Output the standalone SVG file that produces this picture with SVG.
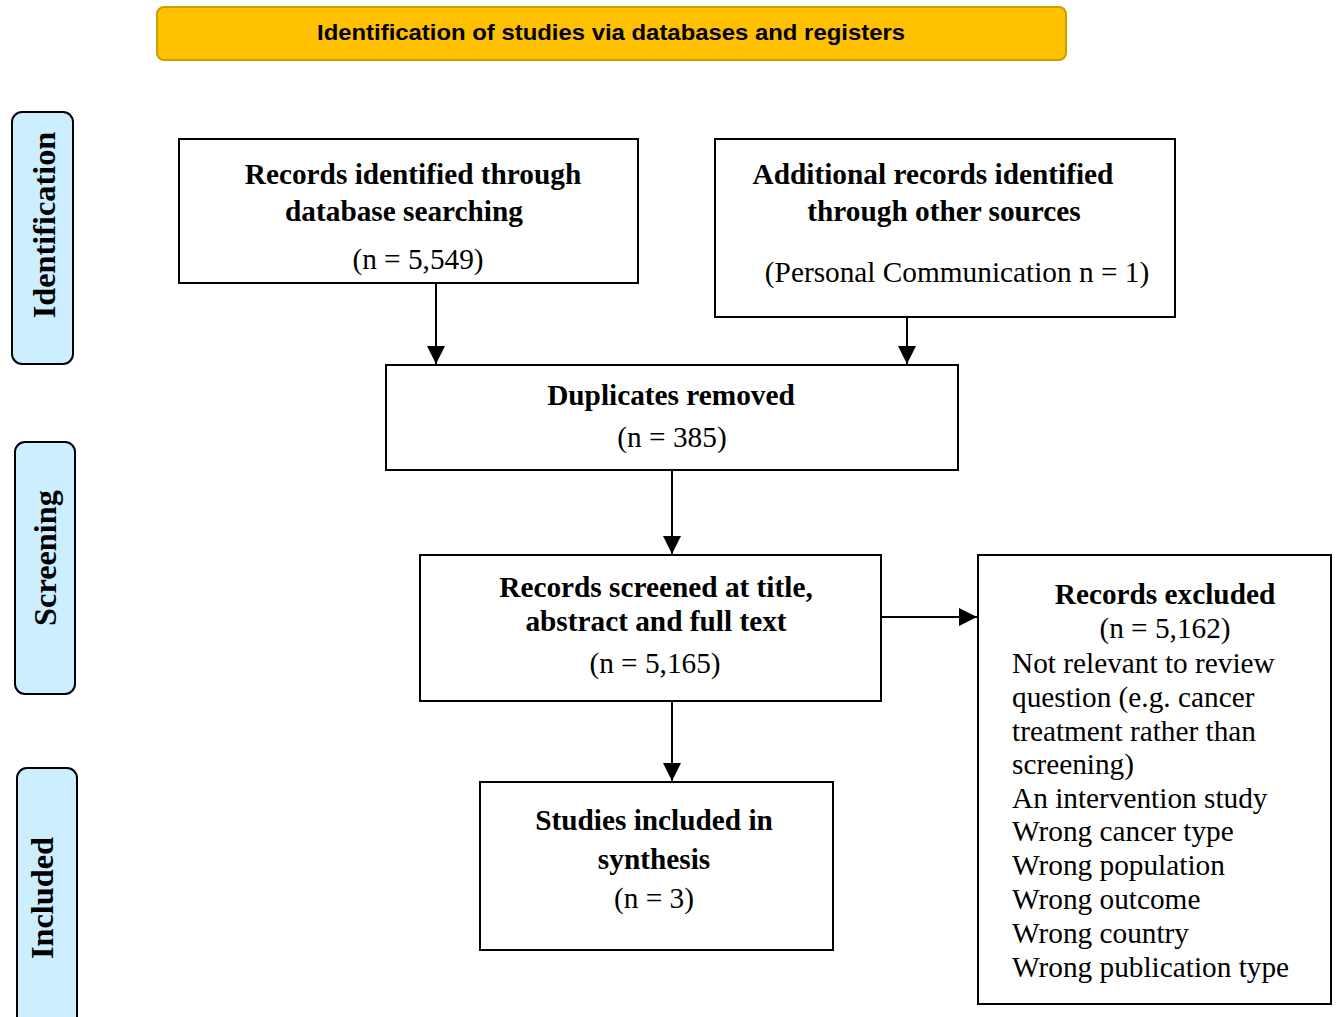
<svg xmlns="http://www.w3.org/2000/svg" width="1338" height="1017" viewBox="0 0 1338 1017">
<defs>
<marker id="ah" markerUnits="userSpaceOnUse" markerWidth="20" markerHeight="20" refX="18" refY="9" orient="auto">
<path d="M0,0 L18,9 L0,18 z" fill="#000"/>
</marker>
<style>
.box{fill:#fff;stroke:#000;stroke-width:2}
.side{fill:#CCEEFF;stroke:#000;stroke-width:2}
.b{font-family:"Liberation Serif",serif;font-weight:bold;font-size:29.3px;fill:#000;text-anchor:middle}
.r{font-family:"Liberation Serif",serif;font-size:29.3px;fill:#000;text-anchor:middle}
.l{font-family:"Liberation Serif",serif;font-size:29.3px;fill:#000}
.s{font-family:"Liberation Serif",serif;font-weight:bold;font-size:32.3px;fill:#000;text-anchor:middle}
.conn{stroke:#000;stroke-width:2;fill:none;marker-end:url(#ah)}
</style>
</defs>
<rect width="1338" height="1017" fill="#fff"/>
<g id="header">
<rect x="157" y="7" width="909" height="53" rx="7" fill="#FFC000" stroke="#C8A000" stroke-width="2"/>
<text x="611" y="40" font-family="Liberation Sans, sans-serif" font-weight="bold" font-size="22" text-anchor="middle" fill="#000" textLength="588" lengthAdjust="spacingAndGlyphs">Identification of studies via databases and registers</text>
</g>
<g id="stage-identification">
<rect class="side" x="12" y="112" width="61" height="252" rx="10"/>
<text class="s" transform="translate(55,225) rotate(-90)">Identification</text>
</g>
<g id="stage-screening">
<rect class="side" x="15" y="442" width="60" height="252" rx="10"/>
<text class="s" transform="translate(56,558) rotate(-90)">Screening</text>
</g>
<g id="stage-included">
<rect class="side" x="17" y="768" width="60" height="260" rx="10"/>
<text class="s" transform="translate(53,898) rotate(-90)">Included</text>
</g>
<g id="connectors">
<line class="conn" x1="436" y1="283" x2="436" y2="364"/>
<line class="conn" x1="907" y1="317" x2="907" y2="364"/>
<line class="conn" x1="672" y1="470" x2="672" y2="554"/>
<line class="conn" x1="881" y1="617" x2="977" y2="617"/>
<line class="conn" x1="672" y1="700" x2="672" y2="781"/>
</g>
<g id="records-database">
<rect class="box" x="179" y="139" width="459" height="144"/>
<text class="b" x="413" y="184">Records identified through</text>
<text class="b" x="404" y="221">database searching</text>
<text class="r" x="418" y="269">(n = 5,549)</text>
</g>
<g id="records-other">
<rect class="box" x="715" y="139" width="460" height="178"/>
<text class="b" x="933" y="184">Additional records identified</text>
<text class="b" x="944" y="221">through other sources</text>
<text class="r" x="957" y="282">(Personal Communication n = 1)</text>
</g>
<g id="duplicates">
<rect class="box" x="386" y="365" width="572" height="105"/>
<text class="b" x="671" y="405">Duplicates removed</text>
<text class="r" x="672" y="447">(n = 385)</text>
</g>
<g id="screened">
<rect class="box" x="420" y="555" width="461" height="146"/>
<text class="b" x="656" y="597">Records screened at title,</text>
<text class="b" x="656" y="631">abstract and full text</text>
<text class="r" x="655" y="673">(n = 5,165)</text>
</g>
<g id="included">
<rect class="box" x="480" y="782" width="353" height="168"/>
<text class="b" x="654" y="830">Studies included in</text>
<text class="b" x="654" y="869">synthesis</text>
<text class="r" x="654" y="908">(n = 3)</text>
</g>
<g id="excluded">
<rect class="box" x="978" y="555" width="353" height="449"/>
<text class="b" x="1165" y="604">Records excluded</text>
<text class="r" x="1165" y="638">(n = 5,162)</text>
<text class="l" x="1012" y="673">Not relevant to review</text>
<text class="l" x="1012" y="707">question (e.g. cancer</text>
<text class="l" x="1012" y="741">treatment rather than</text>
<text class="l" x="1012" y="774">screening)</text>
<text class="l" x="1012" y="808">An intervention study</text>
<text class="l" x="1012" y="841">Wrong cancer type</text>
<text class="l" x="1012" y="875">Wrong population</text>
<text class="l" x="1012" y="909">Wrong outcome</text>
<text class="l" x="1012" y="943">Wrong country</text>
<text class="l" x="1012" y="977">Wrong publication type</text>
</g>
</svg>
